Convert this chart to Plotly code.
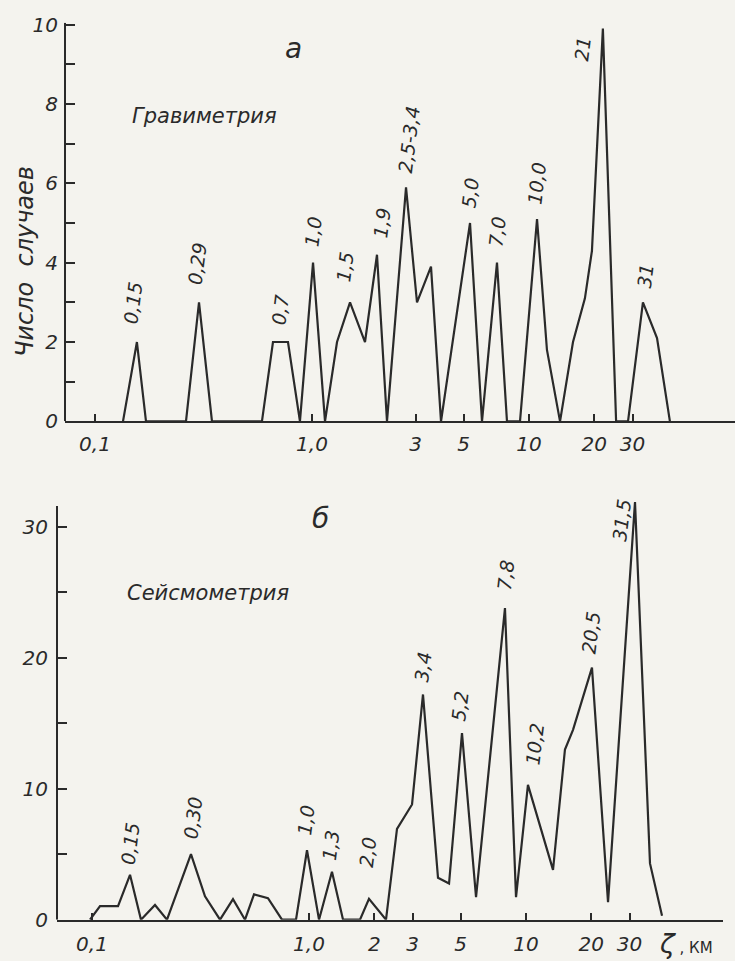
import math
import plotly.graph_objects as go

# ---------------- data ----------------
# Panel a (Гравиметрия): distance, km  /  number of cases
grav_x = [0.1346, 0.156, 0.1718, 0.2626, 0.3015, 0.346, 0.588, 0.661, 0.775, 0.880,
          1.011, 1.148, 1.304, 1.497, 1.755, 1.993, 2.216, 2.712, 3.047, 3.535,
          3.931, 5.348, 6.073, 7.12, 7.916, 9.09, 10.89, 12.1, 13.9, 15.95,
          18.1, 19.5, 21.9, 25.2, 28.6, 33.5, 38.9, 44.6]
grav_y = [0, 2, 0, 0, 3, 0, 0, 2, 2, 0,
          4, 0, 2, 3, 2, 4.2, 0, 5.9, 3, 3.9,
          0, 5, 0, 4, 0, 0, 5.1, 1.8, 0, 2,
          3.1, 4.3, 9.9, 0, 0, 3, 2.1, 0]

# Panel б (Сейсмометрия)
seis_x = [0.0979, 0.1089, 0.1318, 0.1497, 0.1682, 0.1951, 0.2216, 0.2858, 0.3317, 0.389,
          0.4464, 0.5071, 0.558, 0.647, 0.751, 0.8711, 0.979, 1.112, 1.276, 1.435,
          1.718, 1.89, 2.264, 2.544, 2.984, 3.352, 3.931, 4.419, 5.07, 5.885,
          8.0, 8.995, 10.21, 13.32, 15.12, 16.47, 20.14, 23.88, 31.79, 37.27, 42.35]
seis_y = [0, 1.04, 1.04, 3.43, 0, 1.12, 0, 5.0, 1.79, 0,
          1.57, 0, 1.94, 1.64, 0, 0, 5.3, 0, 3.66, 0,
          0, 1.6, 0, 6.94, 8.8, 17.2, 3.2, 2.76, 14.25, 1.72,
          23.8, 1.72, 10.3, 3.8, 13.0, 14.5, 19.25, 1.34, 31.9, 4.3, 0.3]

# peak labels (text, x value, y value of label centre)
grav_labels = ["0,15", "0,29", "0,7", "1,0", "1,5", "1,9", "2,5-3,4", "5,0", "7,0", "10,0", "21", "31"]
grav_lab_x = [0.1497, 0.295, 0.712, 1.01, 1.42, 2.10, 2.80, 5.35, 7.12, 10.9, 17.7, 34.3]
grav_lab_y = [2.98, 3.97, 2.81, 4.78, 3.89, 5.0, 7.09, 5.76, 4.78, 6.0, 9.38, 3.67]

seis_labels = ["0,15", "0,30", "1,0", "1,3", "2,0", "3,4", "5,2", "7,8", "10,2", "20,5", "31,5"]
seis_lab_x = [0.1496, 0.292, 0.969, 1.263, 1.87, 3.35, 4.97, 8.09, 11.0, 19.9, 27.7]
seis_lab_y = [5.8, 7.76, 7.6, 5.67, 5.15, 19.3, 16.3, 26.3, 13.4, 21.9, 30.5]

# axis ticks
grav_xtick_vals = [0.1, 1, 3, 5, 10, 20, 30]
grav_xtick_text = ["0,1", "1,0", "3", "5", "10", "20", "30"]
seis_xtick_vals = [0.1, 1, 2, 3, 5, 10, 20, 30]
seis_xtick_text = ["0,1", "1,0", "2", "3", "5", "10", "20", "30"]
grav_ytick_vals = list(range(0, 11))
grav_ytick_text = ["0", "", "2", "", "4", "", "6", "", "8", "", "10"]
seis_ytick_vals = [0, 5, 10, 15, 20, 25, 30]
seis_ytick_text = ["0", "", "10", "", "20", "", "30"]

# ---------------- style ----------------
INK = "#2a2a2a"
BG = "#f4f3ee"
FONT = "DejaVu Sans"
W, H = 735, 961

fig = go.Figure()
fig.add_trace(go.Scatter(x=grav_x, y=grav_y, mode="lines", xaxis="x", yaxis="y",
                         line=dict(color=INK, width=2.2), hoverinfo="skip", showlegend=False))
fig.add_trace(go.Scatter(x=seis_x, y=seis_y, mode="lines", xaxis="x2", yaxis="y2",
                         line=dict(color=INK, width=2.2), hoverinfo="skip", showlegend=False))

tickfont = dict(family=FONT, size=20, color=INK, style="italic")

common_x = dict(type="log", showgrid=False, zeroline=False, showline=True, linecolor=INK,
                linewidth=2, ticks="inside", ticklen=7, tickwidth=1.5, tickcolor=INK,
                tickfont=tickfont, tickmode="array")
common_y = dict(showgrid=False, zeroline=False, showline=False, ticks="inside", ticklen=10,
                tickwidth=1.5, tickcolor=INK, tickfont=tickfont, tickmode="array")

fig.update_layout(
    width=W, height=H,
    margin=dict(l=0, r=0, t=0, b=0),
    paper_bgcolor=BG, plot_bgcolor=BG,
    xaxis=dict(common_x, domain=[65 / W, 1.0], range=[-1.13825, 1.94931], anchor="y",
               tickvals=grav_xtick_vals, ticktext=grav_xtick_text, ticklabelstandoff=4),
    yaxis=dict(common_y, domain=[(H - 421) / H, (H - 13) / H], range=[0, 10.05], anchor="x",
               tickvals=grav_ytick_vals, ticktext=grav_ytick_text, ticklabelstandoff=6),
    xaxis2=dict(common_x, domain=[57 / W, 723 / W], range=[-1.16129, 1.90783], anchor="y2",
                tickvals=seis_xtick_vals, ticktext=seis_xtick_text, ticklabelstandoff=5),
    yaxis2=dict(common_y, domain=[(H - 931) / H, (H - 499.5) / H], range=[0, 32.2], anchor="x2",
                tickvals=seis_ytick_vals, ticktext=seis_ytick_text, ticklabelstandoff=8),
)

# y-axis lines
fig.add_shape(type="line", xref="x domain", yref="y", x0=0, x1=0, y0=0, y1=10.05,
              line=dict(color=INK, width=2))
fig.add_shape(type="line", xref="x2 domain", yref="y2", x0=0, x1=0, y0=0, y1=31.6,
              line=dict(color=INK, width=2))

labfont = dict(family=FONT, size=19, color=INK, style="italic")
for t, lx, ly in zip(grav_labels, grav_lab_x, grav_lab_y):
    fig.add_annotation(x=math.log10(lx), y=ly, xref="x", yref="y", text=t, showarrow=False,
                       textangle=-83, font=labfont, xanchor="center", yanchor="middle")
for t, lx, ly in zip(seis_labels, seis_lab_x, seis_lab_y):
    fig.add_annotation(x=math.log10(lx), y=ly, xref="x2", yref="y2", text=t, showarrow=False,
                       textangle=-83, font=labfont, xanchor="center", yanchor="middle")


def paper_text(px, py, text, font, angle=0):
    fig.add_annotation(x=px / W, y=1 - py / H, xref="paper", yref="paper", text=text,
                       showarrow=False, font=font, textangle=angle,
                       xanchor="center", yanchor="middle")


txtfont = dict(family=FONT, size=21, color=INK, style="italic")
paper_text(204, 108, "Гравиметрия", txtfont)
paper_text(208, 597, "Сейсмометрия", txtfont)
paper_text(293, 39, "а", dict(family=FONT, size=28, color=INK, style="italic"))
paper_text(320, 520, "б", dict(family=FONT, size=28, color=INK, style="italic"))
paper_text(25, 258, "Число  случаев", dict(family=FONT, size=24, color=INK, style="italic"), -90)
paper_text(686, 955, "<span style='font-size:27px'><i>ζ</i></span> , КМ",
           dict(family=FONT, size=15, color=INK))

fig.write_html("out.html")
